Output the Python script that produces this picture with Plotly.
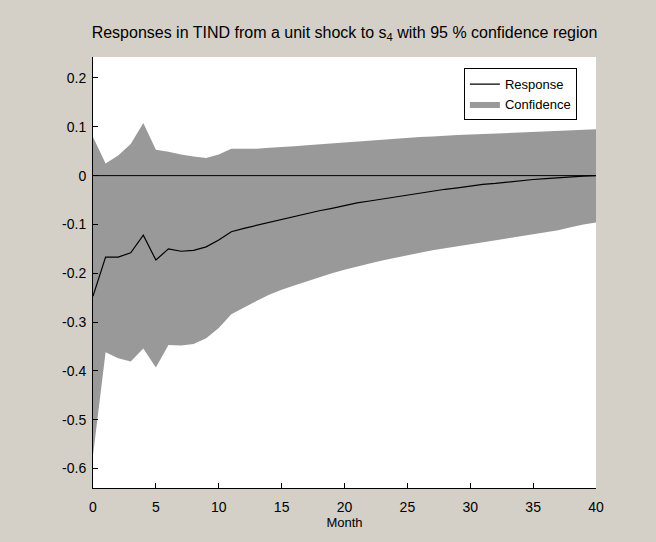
import plotly.graph_objects as go

# Impulse response of TIND to a unit shock in s4, months 0..40
months = list(range(0, 41))

response = [-0.247, -0.167, -0.167, -0.158, -0.122, -0.173, -0.150, -0.155, -0.153, -0.146,
            -0.132, -0.115, -0.108, -0.102, -0.095, -0.090, -0.084, -0.078, -0.072, -0.067,
            -0.061, -0.056, -0.052, -0.048, -0.043, -0.039, -0.035, -0.032, -0.028, -0.025,
            -0.021, -0.018, -0.016, -0.013, -0.010, -0.008, -0.006, -0.004, -0.002, -0.001,
            0.000]

upper = [0.079, 0.025, 0.041, 0.065, 0.108, 0.053, 0.049, 0.043, 0.039, 0.036,
         0.043, 0.055, 0.055, 0.055, 0.057, 0.058, 0.060, 0.062, 0.064, 0.066,
         0.068, 0.070, 0.072, 0.074, 0.076, 0.077, 0.079, 0.080, 0.082, 0.083,
         0.084, 0.085, 0.087, 0.088, 0.089, 0.090, 0.091, 0.092, 0.093, 0.094,
         0.095]

lower = [-0.573, -0.362, -0.374, -0.381, -0.354, -0.393, -0.347, -0.348, -0.345, -0.333,
         -0.312, -0.284, -0.271, -0.257, -0.244, -0.234, -0.225, -0.216, -0.208, -0.200,
         -0.193, -0.186, -0.180, -0.174, -0.168, -0.163, -0.158, -0.153, -0.149, -0.144,
         -0.140, -0.136, -0.132, -0.128, -0.124, -0.120, -0.116, -0.112, -0.106, -0.100,
         -0.096]

x_ticks = [0, 5, 10, 15, 20, 25, 30, 35, 40]
y_ticks = [-0.6, -0.5, -0.4, -0.3, -0.2, -0.1, 0, 0.1, 0.2]
y_tick_text = ["-0.6", "-0.5", "-0.4", "-0.3", "-0.2", "-0.1", "0", "0.1", "0.2"]

band_color = "#999999"
panel_bg = "#d4d0c8"
font_family = "Liberation Sans, Arial, sans-serif"

fig = go.Figure()

# Confidence band as a closed polygon (upper forward, lower backward)
fig.add_trace(go.Scatter(
    x=months + months[::-1],
    y=upper + lower[::-1],
    fill="toself",
    fillcolor=band_color,
    line=dict(width=0, color=band_color),
    mode="lines",
    name="Confidence",
    hoverinfo="skip",
))

# Zero reference line
fig.add_trace(go.Scatter(
    x=[months[0], months[-1]],
    y=[0, 0],
    mode="lines",
    line=dict(color="black", width=1),
    showlegend=False,
    hoverinfo="skip",
))

fig.add_trace(go.Scatter(
    x=months,
    y=response,
    mode="lines",
    line=dict(color="black", width=1.2),
    name="Response",
))

fig.update_layout(
    width=656,
    height=542,
    paper_bgcolor=panel_bg,
    plot_bgcolor="white",
    margin=dict(l=93, r=60, t=57, b=54),
    font=dict(family=font_family, size=14, color="black"),
    title=dict(
        text="Responses in TIND from a unit shock to s<sub>4</sub> with 95 % confidence region",
        x=(93 + 596) / 2 / 656,
        xanchor="center",
        y=1 - 32 / 542,
        yanchor="middle",
        font=dict(family=font_family, size=16, color="black"),
    ),
    showlegend=True,
    legend=dict(
        x=0.962,
        y=0.974,
        xanchor="right",
        yanchor="top",
        bgcolor="white",
        bordercolor="black",
        borderwidth=1,
        traceorder="reversed",
        font=dict(family=font_family, size=13),
        tracegroupgap=0,
        itemwidth=30,
    ),
    xaxis=dict(
        range=[0, 40],
        tickvals=x_ticks,
        ticktext=[str(v) for v in x_ticks],
        ticks="inside",
        ticklen=5,
        tickcolor="black",
        ticklabelstandoff=6,
        tickfont=dict(size=14),
        showline=True,
        linecolor="black",
        linewidth=1,
        showgrid=False,
        zeroline=False,
        mirror=False,
        title=dict(text="Month", font=dict(size=13), standoff=4),
    ),
    yaxis=dict(
        range=[-0.64, 0.243],
        tickvals=y_ticks,
        ticktext=y_tick_text,
        ticks="inside",
        ticklen=5,
        tickcolor="black",
        ticklabelstandoff=3,
        tickfont=dict(size=14),
        showline=True,
        linecolor="black",
        linewidth=1,
        showgrid=False,
        zeroline=False,
        mirror=False,
    ),
)

fig.write_html("out.html")
